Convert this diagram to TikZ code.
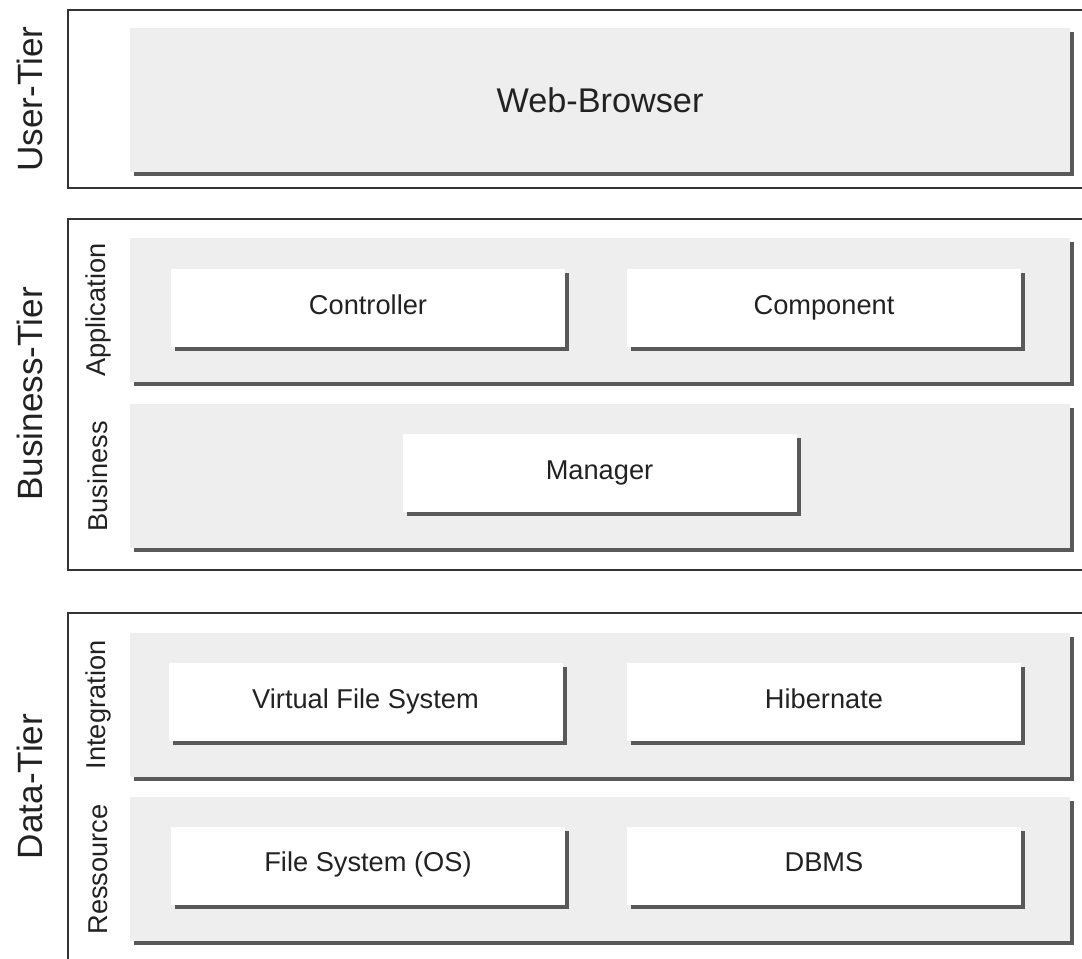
\documentclass[tikz,border=0pt]{standalone}
\usepackage{fontspec}
\setmainfont{Liberation Sans}
\usetikzlibrary{shadows}
\definecolor{panelgray}{HTML}{EEEEEE}
\definecolor{textgray}{HTML}{222222}
\begin{document}
\begin{tikzpicture}[
    frame/.style={draw=black!80, line width=1.1pt},
    shadowed/.style={drop shadow={shadow xshift=0.08cm, shadow yshift=-0.08cm, fill=black!65, opacity=1}},
    panel/.style={shadowed, fill=panelgray, minimum width=18.8cm, minimum height=2.88cm, inner sep=0pt},
    layerbox/.style={shadowed, fill=white, minimum width=7.88cm, minimum height=1.56cm, inner sep=0pt,
      text height=1.6ex, text depth=0.4ex, text=textgray, font=\fontsize{15.5}{18}\selectfont},
    tierlabel/.style={rotate=90, text=textgray, font=\fontsize{20}{24}\selectfont},
    layerlabel/.style={rotate=90, text=textgray, font=\fontsize{15.5}{18}\selectfont}]
  \useasboundingbox (0,0) rectangle (21.64,19.18);
  % tiers
  \draw[frame] (1.36,18.98) rectangle (21.8,15.42);
  \draw[frame] (1.36,14.8) rectangle (21.8,7.78);
  \draw[frame] (1.36,6.92) rectangle (21.8,-0.3);
  \node[tierlabel] (user) at (0.6,17.2) {User-Tier};
  \node[tierlabel] (business) at (0.6,11.3) {Business-Tier};
  \node[tierlabel] (data) at (0.6,3.45) {Data-Tier};
  % layers
  \node[panel, text=textgray, font=\fontsize{19.5}{23}\selectfont] (browser) at (12.0,17.18) {Web-Browser};
  \node[panel] (app) at (12.0,12.98) {};
  \node[panel] (biz) at (12.0,9.65) {};
  \node[panel] (integ) at (12.0,5.08) {};
  \node[panel] (res) at (12.0,1.79) {};
  \node[layerlabel] (applbl) at (1.96,12.98) {Application};
  \node[layerlabel] (bizlbl) at (1.96,9.65) {Business};
  \node[layerlabel] (integlbl) at (1.96,5.08) {Integration};
  \node[layerlabel] (reslbl) at (1.96,1.79) {Ressource};
  % components
  \node[layerbox] (controller) at (7.36,13.01) {Controller};
  \node[layerbox] (component) at (16.48,13.01) {Component};
  \node[layerbox] (manager) at (11.99,9.71) {Manager};
  \node[layerbox] (vfs) at (7.31,5.13) {Virtual File System};
  \node[layerbox] (hibernate) at (16.48,5.13) {Hibernate};
  \node[layerbox] (fs) at (7.36,1.86) {File System (OS)};
  \node[layerbox] (dbms) at (16.48,1.86) {DBMS};
\end{tikzpicture}
\end{document}
